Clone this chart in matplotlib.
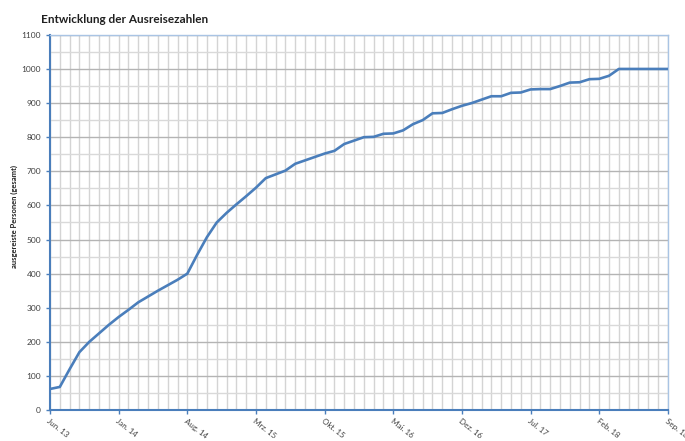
import pandas as pd
import matplotlib.pyplot as plt
from matplotlib.ticker import MultipleLocator

plt.rcParams["font.family"] = ["Lato", "DejaVu Sans"]

# monthly totals, Jun 2013 - Sep 2018
months = pd.date_range("2013-06-01", "2018-09-01", freq="MS")
persons = [62, 68, 120, 170, 200, 225, 250, 273, 294, 316, 333, 350,
           366, 382, 400, 455, 507, 550, 578, 603, 627, 652, 680, 691,
           702, 722, 732, 742, 752, 760, 780, 790, 800, 801, 810, 811,
           820, 838, 850, 870, 871, 882, 892, 900, 910, 920, 920, 930,
           931, 940, 941, 941, 950, 960, 961, 970, 971, 980, 1000, 1000,
           1000, 1000, 1000, 1000]
month_names = ["Jan.", "Feb.", "Mrz.", "Apr.", "Mai.", "Jun.",
               "Jul.", "Aug.", "Sep.", "Okt.", "Nov.", "Dez."]

blue = "#4a7ebb"
idx = list(range(len(months)))

fig = plt.figure(figsize=(6.85, 4.41), dpi=100)
ax = fig.add_axes([0.073, 0.070, 0.902, 0.851])

ax.plot(idx, persons, color=blue, linewidth=1.9, zorder=3)

ax.set_xlim(0, len(months) - 1)
ax.set_ylim(0, 1100)
ax.yaxis.set_major_locator(MultipleLocator(100))
ax.yaxis.set_minor_locator(MultipleLocator(50))
ax.xaxis.set_minor_locator(MultipleLocator(1))
tick_pos = idx[::7]
ax.set_xticks(tick_pos)
ax.set_xticklabels([f"{month_names[months[i].month - 1]} {months[i].year % 100}"
                    for i in tick_pos],
                   rotation=-38, ha="left", va="top", rotation_mode="anchor",
                   fontsize=5.8, color="#404040")
ax.tick_params(axis="y", labelsize=6, labelcolor="#404040")

ax.grid(which="major", axis="y", color="#b4b4b4", linewidth=1.0)
ax.grid(which="minor", axis="y", color="#d9d9d9", linewidth=1.0)
ax.grid(which="both", axis="x", color="#d4d4d4", linewidth=1.0)
ax.set_axisbelow(True)

ax.tick_params(which="major", color=blue, length=3, width=1)
ax.tick_params(which="minor", length=0)
ax.tick_params(axis="x", pad=2)
for side in ["left", "bottom"]:
    ax.spines[side].set_color(blue)
    ax.spines[side].set_linewidth(1.5)
for side in ["top", "right"]:
    ax.spines[side].set_color("#a9c4e4")
    ax.spines[side].set_linewidth(1.0)

ax.set_ylabel("ausgereiste Personen (gesamt)", fontsize=5.5, fontweight="bold",
              color="#202020")
ax.yaxis.set_label_coords(-0.052, 0.515)
fig.text(0.06, 0.955, "Entwicklung der Ausreisezahlen", fontsize=8.5,
         fontweight="bold", color="#202020", va="center")

fig.savefig("out.png", dpi=100)
